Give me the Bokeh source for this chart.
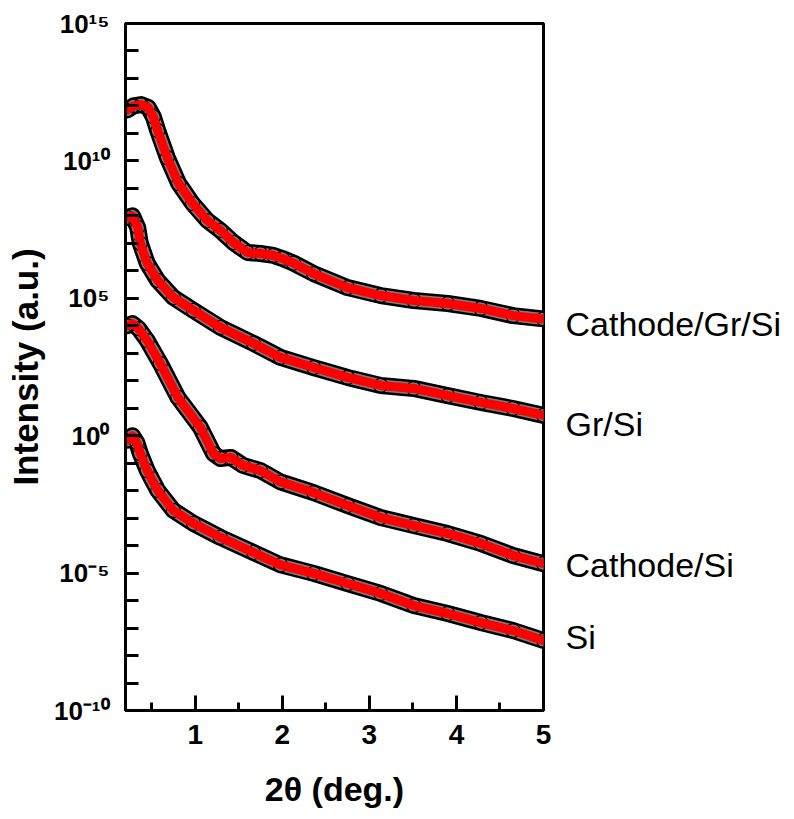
import numpy as np
from bokeh.plotting import figure
from bokeh.models import Range1d, FixedTicker, CustomJSTickFormatter, LogAxis
from bokeh.embed import file_html
from bokeh.resources import INLINE

# ---- data (2theta in deg, log10 of intensity) ----
cgs_x = [0.22, 0.29, 0.38, 0.46, 0.52, 0.57, 0.68, 0.81, 0.97, 1.14, 1.29, 1.44, 1.60, 1.75, 1.90, 2.00, 2.13, 2.36, 2.75, 3.13, 3.51, 3.90, 4.28, 4.65, 5.00]
cgs_log = [11.85, 12.0, 12.05, 11.95, 11.6, 11.1, 10.12, 9.18, 8.45, 7.83, 7.47, 7.03, 6.67, 6.63, 6.56, 6.45, 6.28, 5.90, 5.39, 5.10, 4.92, 4.81, 4.63, 4.37, 4.25]

gs_x = [0.22, 0.28, 0.34, 0.37, 0.45, 0.57, 0.75, 0.98, 1.29, 1.67, 1.98, 2.36, 2.75, 3.13, 3.51, 3.90, 4.28, 4.65, 5.00]
gs_log = [7.94, 8.0, 7.58, 7.0, 6.27, 5.65, 5.03, 4.56, 3.94, 3.36, 2.85, 2.48, 2.12, 1.83, 1.72, 1.46, 1.21, 0.99, 0.74]

cs_x = [0.22, 0.28, 0.35, 0.45, 0.60, 0.80, 1.06, 1.21, 1.29, 1.41, 1.55, 1.75, 1.98, 2.36, 2.75, 3.13, 3.51, 3.90, 4.28, 4.65, 5.00]
cs_log = [4.0, 4.08, 3.9, 3.46, 2.63, 1.4, 0.30, -0.65, -0.83, -0.79, -1.08, -1.27, -1.68, -2.07, -2.54, -2.98, -3.27, -3.56, -3.92, -4.36, -4.66]

si_x = [0.22, 0.28, 0.33, 0.37, 0.45, 0.57, 0.75, 0.98, 1.29, 1.67, 1.98, 2.36, 2.75, 3.13, 3.51, 3.90, 4.28, 4.65, 5.00]
si_log = [-0.17, 0.0, -0.25, -0.65, -1.27, -1.99, -2.72, -3.19, -3.70, -4.25, -4.70, -5.01, -5.38, -5.74, -6.18, -6.47, -6.80, -7.09, -7.45]

series_names = ["Cathode/Gr/Si", "Gr/Si", "Cathode/Si", "Si"]
series_x = [cgs_x, gs_x, cs_x, si_x]
series_log = [cgs_log, gs_log, cs_log, si_log]
# vertical position (log10) of each curve's name at the right side
name_log_pos = [4.08, 0.44, -4.72, -7.34]

y_exps = [-10, -5, 0, 5, 10, 15]
y_tick_labels = ["10\u207b\u00b9\u2070", "10\u207b\u2075", "10\u2070", "10\u2075", "10\u00b9\u2070", "10\u00b9\u2075"]
x_major = [1, 2, 3, 4, 5]
x_minor = [0.5, 1.5, 2.5, 3.5, 4.5]

FONT = "Liberation Sans"

p = figure(frame_width=418, frame_height=687,
           min_border_left=125, min_border_right=247, min_border_top=23, min_border_bottom=108,
           x_range=Range1d(0.2, 5.0), y_range=Range1d(1e-10, 1e15), y_axis_type="log",
           output_backend="svg", toolbar_location=None)
p.grid.visible = False
p.outline_line_color = "black"
p.outline_line_width = 3
p.background_fill_color = "white"
p.border_fill_color = "white"

for name, xs, ls in zip(series_names, series_x, series_log):
    ys = [10.0 ** v for v in ls]
    p.line(xs, ys, line_color="black", line_width=17, line_join="round", line_cap="round")
    p.line(xs, ys, line_color="#7d7d7d", line_width=12, line_join="round", line_cap="round")
    p.scatter(xs, ys, marker="circle", size=14, fill_color=None, line_color="black", line_width=1.2)
    p.line(xs, ys, line_color="#ff0000", line_width=9, line_join="round", line_cap="round")

# x axis
xa = p.xaxis[0]
xa.ticker = FixedTicker(ticks=x_major, minor_ticks=x_minor)
xa.axis_line_width = 3
xa.axis_line_color = "black"
xa.major_tick_line_width = 3
xa.minor_tick_line_width = 3
xa.major_tick_line_color = "black"
xa.minor_tick_line_color = "black"
xa.major_tick_in = 15
xa.major_tick_out = 0
xa.minor_tick_in = 8
xa.minor_tick_out = 0
xa.major_label_text_font = FONT
xa.major_label_text_font_style = "bold"
xa.major_label_text_font_size = "28px"
xa.major_label_text_color = "black"
xa.major_label_standoff = 14
xa.axis_label = "2θ (deg.)"
xa.axis_label_text_font = FONT
xa.axis_label_text_font_style = "bold"
xa.axis_label_text_font_size = "34px"
xa.axis_label_text_color = "black"
xa.axis_label_standoff = 23

# y axis
ya = p.yaxis[0]
ya.ticker = FixedTicker(ticks=[10.0 ** e for e in y_exps], minor_ticks=[10.0 ** k for k in range(-10, 16)])
ya.formatter = CustomJSTickFormatter(args=dict(labels=y_tick_labels, exps=y_exps), code="""
    const e = Math.round(Math.log10(tick));
    const i = exps.indexOf(e);
    return i >= 0 ? labels[i] : '';
""")
ya.axis_line_width = 3
ya.axis_line_color = "black"
ya.major_tick_line_width = 3
ya.minor_tick_line_width = 3
ya.major_tick_line_color = "black"
ya.minor_tick_line_color = "black"
ya.major_tick_in = 13
ya.major_tick_out = 0
ya.minor_tick_in = 13
ya.minor_tick_out = 0
ya.major_label_text_font = FONT
ya.major_label_text_font_style = "bold"
ya.major_label_text_font_size = "26px"
ya.major_label_text_color = "black"
ya.major_label_standoff = 16
ya.axis_label = "Intensity (a.u.)"
ya.axis_label_text_font = FONT
ya.axis_label_text_font_style = "bold"
ya.axis_label_text_font_size = "35px"
ya.axis_label_text_color = "black"
ya.axis_label_standoff = 6

# right-side curve names, placed through a tick-less right axis
name_pos = [10.0 ** v for v in name_log_pos]
ra = LogAxis(ticker=FixedTicker(ticks=name_pos, minor_ticks=[]),
             formatter=CustomJSTickFormatter(args=dict(names=series_names, pos=name_log_pos), code="""
    const v = Math.log10(tick);
    let best = 0, d = 1e9;
    for (let i = 0; i < pos.length; i++) { const dd = Math.abs(pos[i] - v); if (dd < d) { d = dd; best = i; } }
    return names[best];
"""))
ra.axis_line_color = None
ra.major_tick_line_color = None
ra.minor_tick_line_color = None
ra.major_tick_in = 0
ra.major_tick_out = 0
ra.major_label_standoff = 22
ra.major_label_text_font = FONT
ra.major_label_text_font_size = "34px"
ra.major_label_text_color = "black"
p.add_layout(ra, "right")

open("out.html", "w").write(file_html(p, INLINE))
